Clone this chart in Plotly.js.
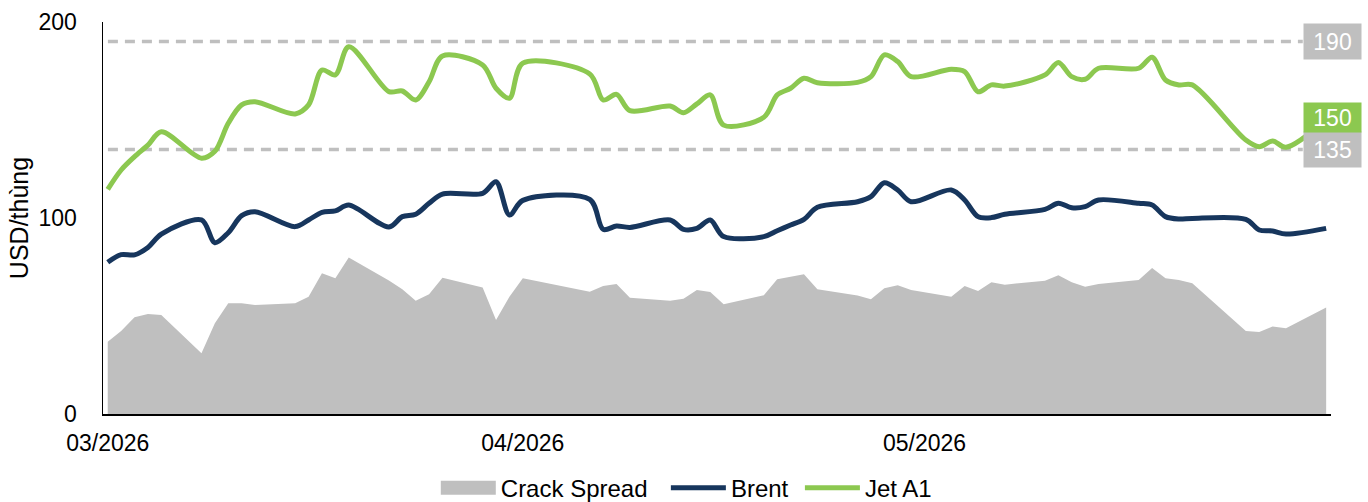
<!DOCTYPE html>
<html><head><meta charset="utf-8">
<script src="https://cdn.plot.ly/plotly-3.0.1.min.js"></script>
<style>html,body{margin:0;padding:0;background:#fff;} #chart{width:1368px;height:502px;}</style>
</head><body><div id="chart"></div>
<script>
const dates = [
  '2026-03-02','2026-03-03','2026-03-04','2026-03-05','2026-03-06',
  '2026-03-09','2026-03-10','2026-03-11','2026-03-12','2026-03-13',
  '2026-03-16','2026-03-17','2026-03-18','2026-03-19','2026-03-20',
  '2026-03-23','2026-03-24','2026-03-25','2026-03-26','2026-03-27',
  '2026-03-30','2026-03-31','2026-04-01','2026-04-02',
  '2026-04-07','2026-04-08','2026-04-09','2026-04-10',
  '2026-04-13','2026-04-14','2026-04-15','2026-04-16','2026-04-17',
  '2026-04-20','2026-04-21','2026-04-22','2026-04-23','2026-04-24',
  '2026-04-27','2026-04-28','2026-04-29','2026-04-30','2026-05-01',
  '2026-05-04','2026-05-05','2026-05-06','2026-05-07','2026-05-08',
  '2026-05-11','2026-05-12','2026-05-13','2026-05-14','2026-05-15',
  '2026-05-18','2026-05-19','2026-05-20','2026-05-21','2026-05-22',
  '2026-05-26','2026-05-27','2026-05-28','2026-05-29',
  '2026-06-01'
];
const crackSpread = [
  36.9, 42.3, 49.3, 51.0, 50.5,
  31.0, 46.3, 56.5, 56.5, 55.6,
  56.5, 59.8, 71.8, 69.2, 79.9,
  68.1, 63.6, 57.8, 61.1, 69.5,
  64.6, 48.0, 59.8, 69.2,
  62.4, 65.3, 66.3, 59.3,
  57.8, 58.8, 63.3, 62.2, 56.0,
  60.6, 68.7, 69.9, 71.3, 63.6,
  60.4, 58.5, 64.1, 65.7, 63.3,
  59.8, 65.3, 62.8, 67.2, 66.0,
  68.0, 70.8, 67.2, 64.9, 66.3,
  68.4, 74.5, 69.2, 68.4, 66.7,
  42.3, 41.8, 44.7, 43.7,
  54.4
];
const brent = [
  77.4, 81.3, 81.2, 85.0, 91.8,
  99.0, 87.4, 92.5, 101.2, 103.2,
  95.6, 99.0, 102.9, 103.6, 106.6,
  95.4, 100.7, 101.9, 107.5, 112.2,
  112.6, 118.5, 101.5, 109.0,
  109.5, 94.2, 95.9, 95.2,
  99.0, 94.2, 94.7, 99.0, 90.5,
  90.5, 93.5, 96.4, 99.3, 105.5,
  108.3, 110.9, 118.0, 114.3, 108.3,
  114.3, 109.2, 100.7, 100.2, 101.9,
  104.4, 107.5, 105.2, 105.8, 109.2,
  107.5, 106.6, 100.7, 99.5, 99.8,
  99.3, 93.9, 93.4, 91.8,
  94.7
];
const jetA1 = [
  114.6, 124.5, 131.3, 137.2, 144.0,
  130.5, 134.0, 148.3, 157.7, 159.3,
  153.1, 157.7, 175.5, 173.0, 187.4,
  164.5, 164.8, 160.2, 169.5, 182.7,
  178.1, 166.2, 161.1, 179.0,
  173.5, 160.2, 163.1, 154.8,
  157.1, 153.7, 158.2, 162.8, 147.4,
  151.4, 162.8, 166.2, 171.3, 169.0,
  169.2, 172.1, 183.2, 179.8, 172.1,
  175.9, 174.7, 164.4, 167.9, 167.3,
  173.0, 179.4, 172.1, 170.8, 176.4,
  176.4, 182.0, 170.4, 167.9, 167.9,
  139.8, 136.4, 139.3, 136.1,
  150
];
const seriesNames = ['Crack Spread', 'Brent', 'Jet A1'];
const tickDates = ['2026-03-02', '2026-04-02', '2026-05-02'];
const tickLabels = ['03/2026', '04/2026', '05/2026'];
const yTicks = [0, 100, 200];
const refLevels = [190, 135];
const yTitle = 'USD/thùng';

const FONT = 'Arial, "Liberation Sans", sans-serif';
const GRAY = '#BFBFBF';
const NAVY = '#17365D';
const GREEN = '#8CC850';
const NB = '\u00a0';

const traces = [
  {x: dates, y: crackSpread, name: seriesNames[0] + NB + NB, type: 'scatter', mode: 'lines',
   fill: 'tozeroy', fillcolor: GRAY, line: {width: 0, color: GRAY}, hoverinfo: 'skip'},
  {x: dates, y: brent, name: seriesNames[1] + NB, type: 'scatter', mode: 'lines',
   line: {color: NAVY, width: 5, shape: 'spline', smoothing: 0.9}},
  {x: dates, y: jetA1, name: seriesNames[2], type: 'scatter', mode: 'lines',
   line: {color: GREEN, width: 5, shape: 'spline', smoothing: 0.9}}
];

const boxX = 0.977;
const shapes = refLevels.map(v => ({
  type: 'line', xref: 'paper', x0: 0.004, x1: boxX, yref: 'y', y0: v, y1: v,
  line: {color: GRAY, width: 3.5, dash: '10px,7px'}, layer: 'below'
}));
const annotations = refLevels.map(v => ({
  xref: 'paper', x: boxX, xanchor: 'left', yref: 'y', y: v, yanchor: 'middle',
  text: String(v), showarrow: false, bgcolor: GRAY, width: 57, height: 35, borderpad: 0,
  font: {family: FONT, size: 23, color: '#FFFFFF'}, align: 'center', valign: 'middle'
}));
const lastJet = jetA1[jetA1.length - 1];
annotations.push({
  xref: 'paper', x: boxX, xanchor: 'left', yref: 'y', y: lastJet, yanchor: 'middle', yshift: 3,
  text: String(lastJet), showarrow: false, bgcolor: GREEN, width: 57, height: 29, borderpad: 0,
  font: {family: FONT, size: 23, color: '#FFFFFF'}, align: 'center', valign: 'middle'
});

const layout = {
  width: 1368, height: 502,
  margin: {l: 103, r: 37, t: 22, b: 88, autoexpand: false},
  paper_bgcolor: '#FFFFFF', plot_bgcolor: '#FFFFFF',
  font: {family: FONT, size: 22, color: '#000000'},
  showlegend: true,
  legend: {orientation: 'h', x: 0.475, xanchor: 'center', y: -0.132, yanchor: 'top',
           font: {family: FONT, size: 24, color: '#000'}, itemwidth: 55, traceorder: 'normal'},
  xaxis: {type: 'date', range: ['2026-03-01 15:30', '2026-06-01 08:40'],
          tickvals: tickDates, ticktext: tickLabels, showgrid: false, zeroline: false,
          showline: true, linecolor: '#000', linewidth: 1.5, automargin: false,
          ticks: 'outside', ticklen: 8, tickcolor: 'rgba(0,0,0,0)',
          tickfont: {family: FONT, size: 23, color: '#000'}},
  yaxis: {range: [0, 200], tickvals: yTicks, showgrid: false, zeroline: false,
          showline: true, linecolor: '#000', linewidth: 1.5, automargin: false,
          ticks: 'outside', ticklen: 20, tickcolor: 'rgba(0,0,0,0)',
          tickfont: {family: FONT, size: 23, color: '#000'},
          title: {text: yTitle, font: {family: FONT, size: 25, color: '#000'}, standoff: 3}},
  shapes: shapes,
  annotations: annotations
};

Plotly.newPlot('chart', traces, layout, {displayModeBar: false, staticPlot: true}).then(gd => {
  const fills = gd.querySelectorAll('.legend .traces .legendfill path');
  fills.forEach(p => {
    const bb = p.getBBox();
    if (bb.width > 0) {
      p.setAttribute('d', 'M' + bb.x + ',-7h' + bb.width + 'v14h' + (-bb.width) + 'z');
    }
  });
});
</script>
</body></html>
